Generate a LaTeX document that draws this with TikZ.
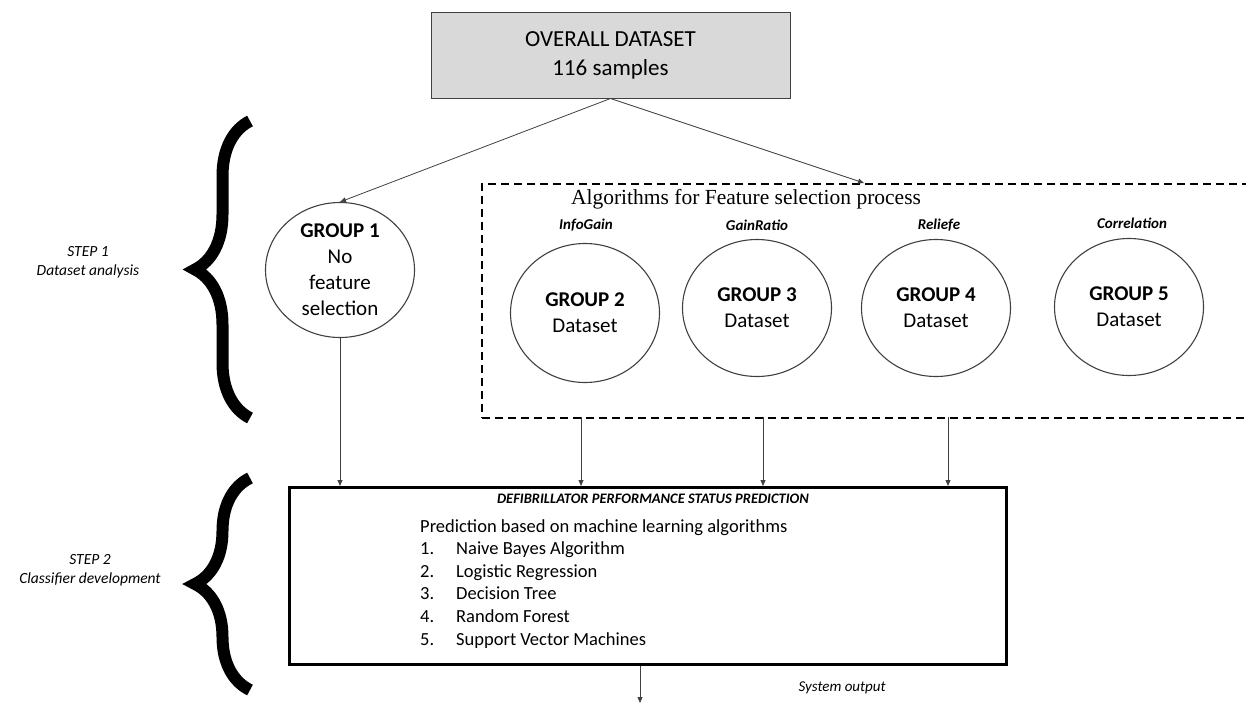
\documentclass[tikz,border=0pt]{standalone}
\usepackage{fontspec}
\setmainfont{Carlito}
\newfontfamily\timesf{Liberation Serif}
\usetikzlibrary{shapes.geometric,arrows.meta,decorations.pathreplacing}
\definecolor{boxgray}{HTML}{D9D9D9}
\definecolor{linegray}{HTML}{404040}
\tikzset{
  conn/.style={draw=linegray, line width=0.8pt, -{Triangle[width=5pt,length=6pt]}},
  grp/.style={ellipse, draw=linegray, line width=1.1pt, minimum width=149pt, minimum height=137pt, inner sep=0pt, align=center, font=\fontsize{21}{26}\selectfont},
  alg/.style={font=\fontsize{15}{18}\selectfont\bfseries\itshape},
  steplbl/.style={align=center, font=\fontsize{15.5}{19}\selectfont\itshape},
  bigbrace/.style={decorate, decoration={brace, amplitude=55pt}, line width=12pt, black},
}
\begin{document}
\begin{tikzpicture}[x=1pt, y=-1pt]
\useasboundingbox (0,0) rectangle (1246,704);

% top box
\node[draw=linegray, line width=1pt, fill=boxgray, minimum width=359pt, minimum height=86pt, align=center,
      font=\fontsize{23}{29}\selectfont] (top) at (610.5,55) {OVERALL DATASET\\116 samples};

% group 1
\node[grp, minimum width=149pt, minimum height=135pt] (g1) at (340,270)
  {\textbf{GROUP 1}\\No\\feature\\selection};

% dashed feature-selection box
\node[draw=black, dashed, dash pattern=on 8pt off 5pt, line width=1.6pt, minimum width=800pt, minimum height=234pt, anchor=north west, inner sep=0pt] (fs) at (481,183) {};
\node[font=\timesf\fontsize{21.5}{25}\selectfont] (fstitle) at (746,199) {Algorithms for Feature selection process};

% algorithm labels
\node[alg] (l2) at (586,225) {InfoGain};
\node[alg] (l3) at (757,225) {GainRatio};
\node[alg] (l4) at (939,225) {Reliefe};
\node[alg] (l5) at (1132,223) {Correlation};

% groups 2..5
\node[grp, minimum height=139pt] (g2) at (585,313) {\textbf{GROUP 2}\\Dataset};
\node[grp] (g3) at (757,308) {\textbf{GROUP 3}\\Dataset};
\node[grp] (g4) at (936,308) {\textbf{GROUP 4}\\Dataset};
\node[grp] (g5) at (1129,307) {\textbf{GROUP 5}\\Dataset};

% prediction box
\node[draw=black, line width=2.6pt, minimum width=717pt, minimum height=177pt, anchor=north west, inner sep=0pt] (pred) at (288,486) {};
\node[font=\fontsize{14.5}{17}\selectfont\bfseries\itshape] (ptitle) at (653,499) {DEFIBRILLATOR PERFORMANCE STATUS PREDICTION};
\node[anchor=north west, inner sep=0pt, align=left, font=\fontsize{18.5}{22.6}\selectfont] (plist) at (420,519)
  {Prediction based on machine learning algorithms\\
   \makebox[36pt][l]{1.}Naive Bayes Algorithm\\
   \makebox[36pt][l]{2.}Logistic Regression\\
   \makebox[36pt][l]{3.}Decision Tree\\
   \makebox[36pt][l]{4.}Random Forest\\
   \makebox[36pt][l]{5.}Support Vector Machines};

% step labels
\node[steplbl] (s1) at (88,262) {STEP 1\\Dataset analysis};
\node[steplbl] (s2) at (90,570) {STEP 2\\Classifier development};

% braces
\draw[bigbrace] (250,418) -- (250,121);
\draw[bigbrace] (250,690) -- (250,478);

% connectors
\coordinate (fsin) at (864,183);
\draw[conn] (top.south) -- (g1.north);
\draw[conn] (top.south) -- (fsin);
\draw[conn] (g1.south) -- (g1.south |- pred.north);
\coordinate (a2) at (581,417);
\coordinate (a3) at (763,417);
\coordinate (a4) at (948,417);
\draw[conn] (a2) -- (a2 |- pred.north);
\draw[conn] (a3) -- (a3 |- pred.north);
\draw[conn] (a4) -- (a4 |- pred.north);
\coordinate (out) at (640,703);
\draw[conn] (out |- pred.south) -- (out);
\node[anchor=west, font=\fontsize{15}{18}\selectfont\itshape] (sysout) at (795,688) {System output};
\end{tikzpicture}
\end{document}
